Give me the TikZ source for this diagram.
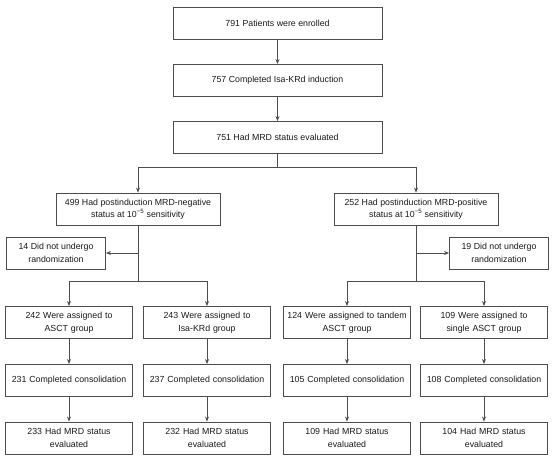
\documentclass[tikz,border=0pt]{standalone}
\usepackage{fontspec}
\setmainfont{Liberation Sans}
\usepackage{tikz}
\usetikzlibrary{arrows.meta}

\begin{document}
\begin{tikzpicture}[x=1pt, y=-1pt,
  box/.style={draw=black!70, line width=0.9pt, align=center, inner sep=1pt,
    text=black!90, font=\fontsize{8.8}{12.5}\selectfont, minimum height=32pt},
  wide/.style={box, minimum width=209pt},
  mid/.style={box, minimum width=164pt},
  side/.style={box, minimum width=99pt},
  arm/.style={box, minimum width=127pt, text width=125pt},
  arr/.style={draw=black!70, line width=0.9pt, -{Stealth[length=5pt, width=4pt]}},
  ln/.style={draw=black!70, line width=0.9pt}]
  \useasboundingbox (0,0) rectangle (554,462);
  % top column
  \node[wide] (enrol) at (277.5,23.5) {791 Patients were enrolled};
  \node[wide] (induct) at (277.5,80.5) {757 Completed Isa-KRd induction};
  \node[wide] (mrdall) at (277.5,137.5) {751 Had MRD status evaluated};
  % two arms after induction
  \node[mid] (neg) at (138,209) {499 Had postinduction MRD-negative\\status at 10\textsuperscript{−5} sensitivity};
  \node[mid] (pos) at (416,209) {252 Had postinduction MRD-positive\\status at 10\textsuperscript{−5} sensitivity};
  \node[side] (negout) at (56,253) {14 Did not undergo\\randomization};
  \node[side] (posout) at (499,253) {19 Did not undergo\\randomization};
  % randomized groups
  \node[arm] (asct) at (69,322.5) {242 Were assigned to\\ASCT group};
  \node[arm] (isa) at (207,322.5) {243 Were assigned to\\Isa-KRd group};
  \node[arm] (tandem) at (347,322.5) {124 Were assigned to tandem\\ASCT group};
  \node[arm] (single) at (484,322.5) {109 Were assigned to\\single ASCT group};
  \node[arm] (asctcons) at (69,380.5) {231 Completed consolidation};
  \node[arm] (isacons) at (207,380.5) {237 Completed consolidation};
  \node[arm] (tandemcons) at (347,380.5) {105 Completed consolidation};
  \node[arm] (singlecons) at (484,380.5) {108 Completed consolidation};
  \node[arm] (asctmrd) at (69,438) {233 Had MRD status\\evaluated};
  \node[arm] (isamrd) at (207,438) {232 Had MRD status\\evaluated};
  \node[arm] (tandemmrd) at (347,438) {109 Had MRD status\\evaluated};
  \node[arm] (singlemrd) at (484,438) {104 Had MRD status\\evaluated};
  % split points
  \coordinate (split) at (277.5,167);
  \coordinate (negsplit) at (138,281);
  \coordinate (possplit) at (416,281);
  % connectors
  \draw[arr] (enrol) -- (induct);
  \draw[arr] (induct) -- (mrdall);
  \draw[ln] (mrdall) -- (split);
  \draw[arr] (split) -| (neg.north);
  \draw[arr] (split) -| (pos.north);
  \draw[ln] (neg) -- (negsplit);
  \draw[ln] (pos) -- (possplit);
  \draw[arr] (neg.south |- negout.east) -- (negout.east);
  \draw[arr] (pos.south |- posout.west) -- (posout.west);
  \draw[arr] (negsplit) -| (asct.north);
  \draw[arr] (negsplit) -| (isa.north);
  \draw[arr] (possplit) -| (tandem.north);
  \draw[arr] (possplit) -| (single.north);
  \draw[arr] (asct) -- (asctcons);
  \draw[arr] (isa) -- (isacons);
  \draw[arr] (tandem) -- (tandemcons);
  \draw[arr] (single) -- (singlecons);
  \draw[arr] (asctcons) -- (asctmrd);
  \draw[arr] (isacons) -- (isamrd);
  \draw[arr] (tandemcons) -- (tandemmrd);
  \draw[arr] (singlecons) -- (singlemrd);
\end{tikzpicture}
\end{document}
